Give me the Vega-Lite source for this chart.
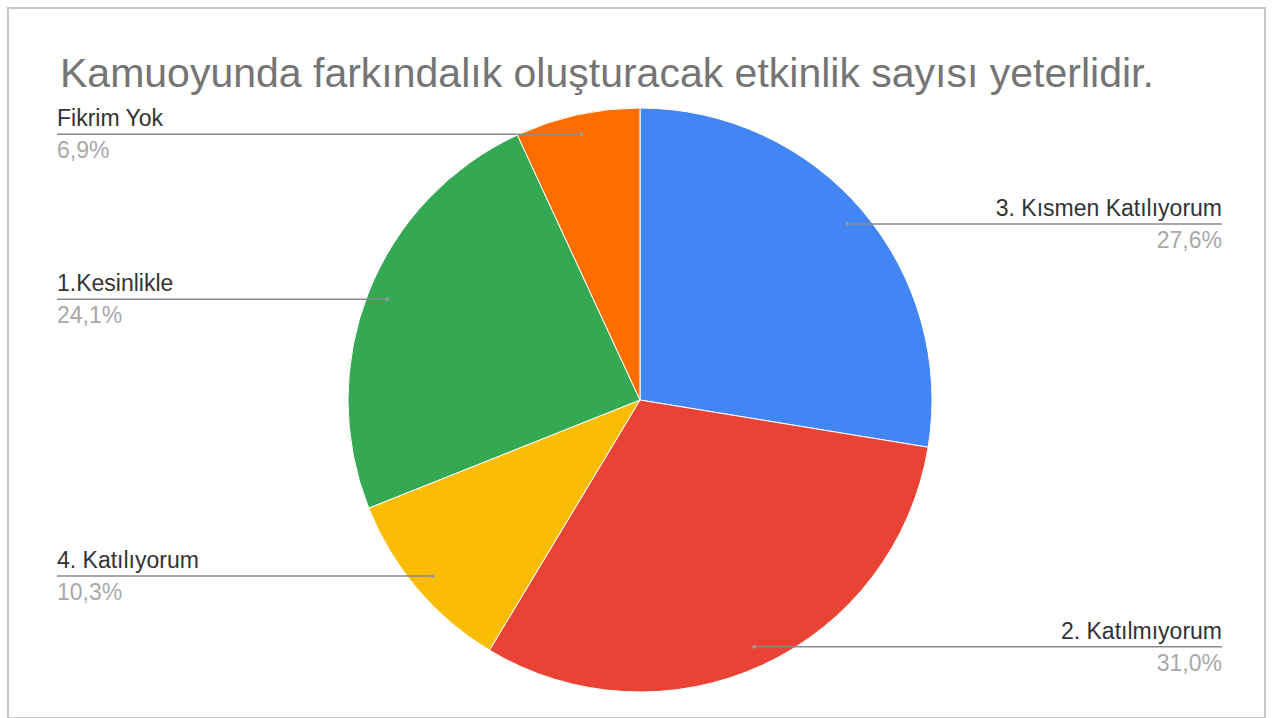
{
  "$schema": "https://vega.github.io/schema/vega-lite/v6.json",
  "description": "Kamuoyunda farkındalık oluşturacak etkinlik sayısı yeterlidir.",
  "autosize": {"type": "none"},
  "width": 1257,
  "height": 710,
  "padding": {"left": 8, "top": 8, "right": 11, "bottom": 0},
  "title": {
    "text": "Kamuoyunda farkındalık oluşturacak etkinlik sayısı yeterlidir.",
    "anchor": "start",
    "frame": "group",
    "orient": "top",
    "offset": -120,
    "baseline": "alphabetic",
    "dx": 52,
    "font": "Liberation Sans",
    "fontSize": 41,
    "fontWeight": "normal",
    "color": "#757575"
  },
  "data": {
    "values": [
      {"idx": 1, "cevap": "3. Kısmen Katılıyorum", "sayi": 8},
      {"idx": 2, "cevap": "2. Katılmıyorum", "sayi": 9},
      {"idx": 3, "cevap": "4. Katılıyorum", "sayi": 3},
      {"idx": 4, "cevap": "1.Kesinlikle", "sayi": 7},
      {"idx": 5, "cevap": "Fikrim Yok", "sayi": 2}
    ]
  },
  "transform": [
    {"joinaggregate": [{"op": "sum", "field": "sayi", "as": "toplam"}]},
    {"window": [{"op": "sum", "field": "sayi", "as": "kum"}], "sort": [{"field": "idx"}], "frame": [null, 0]},
    {"calculate": "2 * PI * (datum.kum - datum.sayi / 2) / datum.toplam", "as": "orta"},
    {"calculate": "sin(datum.orta) * 272", "as": "noktaX"},
    {"calculate": "cos(datum.orta) * 272", "as": "noktaY"},
    {"calculate": "sin(datum.orta) > 0 ? 582 : -583", "as": "etiketX"},
    {"calculate": "replace(format(datum.sayi / datum.toplam, '.1%'), '.', ',')", "as": "yuzde"}
  ],
  "layer": [
    {
      "mark": {
        "type": "arc",
        "outerRadius": 292,
        "stroke": "#ffffff",
        "strokeWidth": 1,
        "x": {"expr": "scale('x', 0)"},
        "y": {"expr": "scale('y', 0)"}
      },
      "encoding": {
        "theta": {"field": "sayi", "type": "quantitative", "stack": true},
        "order": {"field": "idx", "type": "quantitative"},
        "color": {
          "field": "cevap",
          "type": "nominal",
          "scale": {
            "domain": ["3. Kısmen Katılıyorum", "2. Katılmıyorum", "4. Katılıyorum", "1.Kesinlikle", "Fikrim Yok"],
            "range": ["#4285f4", "#ea4335", "#fbbc04", "#34a853", "#ff6d01"]
          },
          "legend": null
        }
      }
    },
    {
      "mark": {"type": "rule", "color": "#8a8a8a", "strokeWidth": 1.5},
      "encoding": {
        "x": {"field": "noktaX", "type": "quantitative", "scale": {"domain": [-632, 625], "nice": false, "zero": false}, "axis": null},
        "x2": {"field": "etiketX"},
        "y": {"field": "noktaY", "type": "quantitative", "scale": {"domain": [-318, 392], "nice": false, "zero": false}, "axis": null}
      }
    },
    {
      "mark": {"type": "circle", "color": "#9a9a9a", "opacity": 1, "size": 14},
      "encoding": {
        "x": {"field": "noktaX", "type": "quantitative"},
        "y": {"field": "noktaY", "type": "quantitative"}
      }
    },
    {
      "mark": {
        "type": "text",
        "font": "Liberation Sans",
        "fontSize": 23,
        "color": "#333333",
        "baseline": "alphabetic",
        "dy": -8,
        "align": {"expr": "datum.etiketX > 0 ? 'right' : 'left'"}
      },
      "encoding": {
        "x": {"field": "etiketX", "type": "quantitative"},
        "y": {"field": "noktaY", "type": "quantitative"},
        "text": {"field": "cevap"}
      }
    },
    {
      "mark": {
        "type": "text",
        "font": "Liberation Sans",
        "fontSize": 23,
        "color": "#a8a8a8",
        "baseline": "top",
        "dy": 6,
        "align": {"expr": "datum.etiketX > 0 ? 'right' : 'left'"}
      },
      "encoding": {
        "x": {"field": "etiketX", "type": "quantitative"},
        "y": {"field": "noktaY", "type": "quantitative"},
        "text": {"field": "yuzde"}
      }
    }
  ],
  "config": {
    "view": {"stroke": "#c6c6c6", "strokeWidth": 2}
  }
}
